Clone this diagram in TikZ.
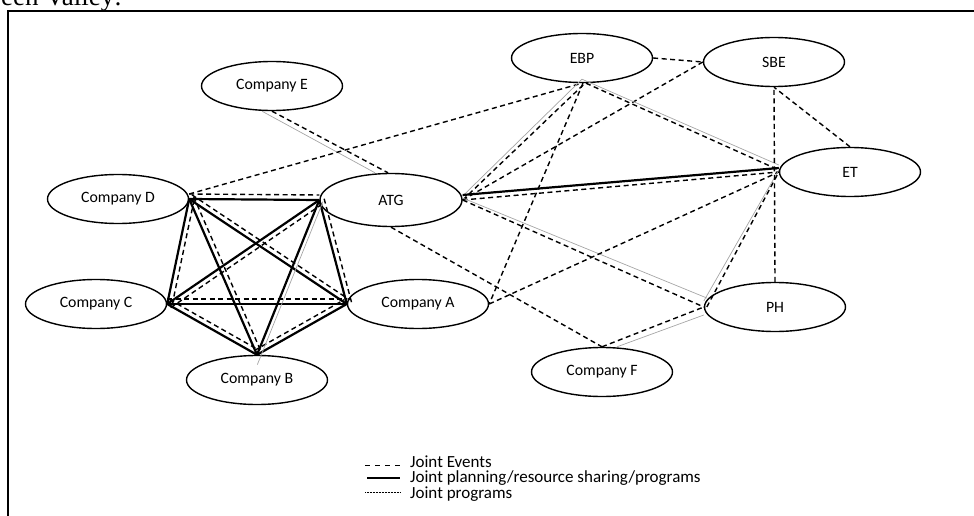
\documentclass[tikz,border=0pt]{standalone}
\usepackage{fontspec}
\setmainfont{Carlito}
\newfontfamily\titlefont{Liberation Serif}
\usetikzlibrary{shapes.geometric,calc}
\newcommand\offedge[4]{\draw[#1] ($(#2)!#4!90:(#3)$) -- ($(#3)!#4!-90:(#2)$);}
\begin{document}
\begin{tikzpicture}[x=1pt,y=-1pt,
  ent/.style={ellipse,draw,line width=1.4pt,minimum width=141pt,minimum height=49pt,inner sep=0pt,font=\fontsize{15.8}{18}\selectfont},
  jev/.style={line width=1.4pt,dash pattern=on 5pt off 3.5pt},
  jplan/.style={line width=2.2pt},
  jprog/.style={line width=0.7pt,gray!70},
  legtext/.style={anchor=base west,inner sep=0pt,font=\fontsize{17}{20}\selectfont}]
\useasboundingbox (0,0) rectangle (974,516);
% frame and clipped heading
\draw[line width=1.6pt] (8,516) -- (8,11) -- (974,11);
\node[anchor=base west,inner sep=0pt,font=\titlefont\fontsize{27}{30}\selectfont] (title) at (1,6) {een Valley:};
% nodes
\node[ent] (E) at (272,86) {Company E};
\node[ent] (EBP) at (582,58) {EBP};
\node[ent] (SBE) at (774,62) {SBE};
\node[ent] (ET) at (850,172) {ET};
\node[ent] (PH) at (775,307) {PH};
\node[ent] (F) at (602,372) {Company F};
\node[ent,minimum width=142pt,minimum height=53pt] (ATG) at (391,200) {ATG};
\node[ent] (A) at (418,304) {Company A};
\node[ent] (D) at (118,199) {Company D};
\node[ent] (C) at (96,304) {Company C};
\node[ent] (B) at (257,380) {Company B};
% cluster: solid + dashed pairs
\draw[jplan] (D.east) -- (ATG.west);  \offedge{jev}{D.east}{ATG.west}{5pt}
\draw[jplan] (D.east) -- (C.east);    \offedge{jev}{D.east}{C.east}{5pt}
\draw[jplan] (D.east) -- (B.north);   \offedge{jev}{D.east}{B.north}{5pt}
\draw[jplan] (D.east) -- (A.west);    \offedge{jev}{D.east}{A.west}{5pt}
\draw[jplan] (ATG.west) -- (C.east);  \offedge{jev}{ATG.west}{C.east}{5pt}
\draw[jplan] (ATG.west) -- (A.west);  \offedge{jev}{ATG.west}{A.west}{5pt}
\draw[jplan] (C.east) -- (A.west);    \offedge{jev}{C.east}{A.west}{5pt}
\draw[jplan] (C.east) -- (B.north);   \offedge{jev}{C.east}{B.north}{5pt}
\draw[jplan] (B.north) -- (A.west);   \offedge{jev}{B.north}{A.west}{5pt}
\draw[jplan] (ATG.west) -- (B.north);
\draw[jprog,shorten >=-9pt] ($(ATG.west)!4pt!90:(B.north)$) -- ($(B.north)!4pt!-90:(ATG.west)$);
% Company E -- ATG
\draw[jprog] ([xshift=-10pt]E.south) -- ([xshift=-16pt]ATG.north);
\draw[jev] (E.south) -- ([xshift=-3pt]ATG.north);
% D -- EBP
\draw[jev] ([yshift=5pt]D.east) -- (EBP.south);
% ATG to the right
\draw[jprog] ([yshift=4pt]ATG.east) -- ([yshift=4pt]EBP.south);
\draw[jev] (ATG.east) -- ([xshift=3pt]EBP.south);
\draw[jev] (ATG.east) -- (SBE.west);
\draw[jplan] ([yshift=5pt]ATG.east) -- ([yshift=4pt]ET.west);
\draw[jev] (ATG.east) -- (ET.west);
\draw[jprog] ([yshift=2pt]ATG.east) -- ([shift={(3pt,9pt)}]PH.west);
\draw[jev] (ATG.east) -- (PH.west);
\draw[jev] (ATG.south) -- (F.north);
% EBP
\draw[jev] ([xshift=1pt]EBP.south) -- (A.east);
\draw[jprog] ([yshift=4pt]EBP.south) -- ([yshift=7pt]ET.west);
\draw[jev] ([xshift=4pt]EBP.south) -- ([yshift=2pt]ET.west);
\draw[jev] (EBP.east) -- (SBE.west);
% others
\draw[jev] (A.east) -- (ET.west);
\draw[jev] (F.north) -- (PH.west);
\draw[jprog] ([xshift=15pt]F.north) -- ([yshift=-8pt]PH.west);
\draw[jprog] ([yshift=6pt]PH.west) -- ([yshift=2pt]ET.west);
\draw[jev] ([xshift=3pt]PH.west) -- (ET.west);
\draw[jev] (ET.north) -- (SBE.south);
\draw[jev] (PH.north) -- (SBE.south);
% legend
\node[legtext] (l1) at (410,467.5) {Joint Events};
\node[legtext] (l2) at (410,482.7) {Joint planning/resource sharing/programs};
\node[legtext] (l3) at (410,498) {Joint programs};
\draw[line width=1pt,dash pattern=on 5pt off 5pt] (365,465) -- (402,465);
\draw[line width=1.8pt] (367,478.3) -- (400,478.3);
\draw[line width=0.5pt,dash pattern=on 0.6pt off 0.9pt] (365,492.7) -- (400,492.7);
\end{tikzpicture}
\end{document}
